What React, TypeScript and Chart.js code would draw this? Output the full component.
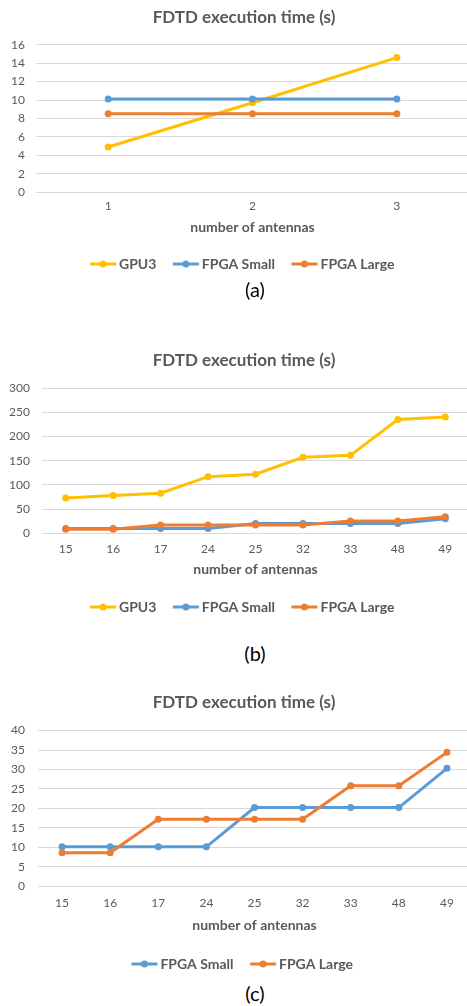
import React, { useEffect, useRef } from "react";
import { Chart, registerables } from "chart.js";

Chart.register(...registerables);

// ---------- data ----------
const antennasA = ["1", "2", "3"];
const gpuA = [4.9, 9.7, 14.6];
const smallA = [10.1, 10.1, 10.1];
const largeA = [8.5, 8.5, 8.5];

const antennasBC = ["15", "16", "17", "24", "25", "32", "33", "48", "49"];
const gpuB = [73, 78, 83, 117, 122, 157, 161, 235, 240];
const smallBC = [10.1, 10.1, 10.1, 10.1, 20.2, 20.2, 20.2, 20.2, 30.3];
const largeBC = [8.6, 8.6, 17.2, 17.2, 17.2, 17.2, 25.8, 25.8, 34.4];

const seriesNames = ["GPU3", "FPGA Small", "FPGA Large"];
const titleText = "FDTD execution time (s)";
const xTitleText = "number of antennas";
const captions = ["(a)", "(b)", "(c)"];

const COLORS: Record<string, string> = {
  GPU3: "#FFC000",
  "FPGA Small": "#5B9BD5",
  "FPGA Large": "#ED7D31",
};
const TEXT = "#595959";
const GRID = "#D9D9D9";
const FONT = "Lato, 'Open Sans', sans-serif";
const W = 488;

type Spec = {
  top: number;
  height: number;
  labels: string[];
  series: { name: string; data: number[] }[];
  yMax: number;
  yStep: number;
  titlePadBottom: number;
  tickPad: number;
  xTitlePadTop: number;
  xTitlePadBottom: number;
  yWidth: number;
  yTickPad: number;
  rightWidth: number;
};

const specs: Spec[] = [
  {
    top: 0,
    height: 281,
    labels: antennasA,
    series: [
      { name: seriesNames[0], data: gpuA },
      { name: seriesNames[1], data: smallA },
      { name: seriesNames[2], data: largeA },
    ],
    yMax: 16,
    yStep: 2,
    titlePadBottom: 16.5,
    tickPad: 7,
    xTitlePadTop: -2,
    xTitlePadBottom: 1.6,
    yWidth: 36,
    yTickPad: 11,
    rightWidth: 19,
  },
  {
    top: 342.7,
    height: 281,
    labels: antennasBC,
    series: [
      { name: seriesNames[0], data: gpuB },
      { name: seriesNames[1], data: smallBC },
      { name: seriesNames[2], data: largeBC },
    ],
    yMax: 300,
    yStep: 50,
    titlePadBottom: 16.8,
    tickPad: 8.1,
    xTitlePadTop: -3.1,
    xTitlePadBottom: 2.3,
    yWidth: 42,
    yTickPad: 12,
    rightWidth: 19,
  },
  {
    top: 684.7,
    height: 296.3,
    labels: antennasBC,
    series: [
      { name: seriesNames[1], data: smallBC },
      { name: seriesNames[2], data: largeBC },
    ],
    yMax: 40,
    yStep: 5,
    titlePadBottom: 17.4,
    tickPad: 10.1,
    xTitlePadTop: -3.4,
    xTitlePadBottom: 2.9,
    yWidth: 38,
    yTickPad: 13,
    rightWidth: 17,
  },
];

function makeLegendImage(color: string): HTMLCanvasElement {
  const c = document.createElement("canvas");
  c.width = 40;
  c.height = 10;
  const ctx = c.getContext("2d")!;
  const lx = 7.25;
  ctx.strokeStyle = color;
  ctx.lineWidth = 3;
  ctx.beginPath();
  ctx.moveTo(lx, 5);
  ctx.lineTo(lx + 26, 5);
  ctx.stroke();
  ctx.fillStyle = color;
  ctx.beginPath();
  ctx.arc(lx + 13, 5, 3.5, 0, Math.PI * 2);
  ctx.fill();
  return c;
}

function ChartPanel({ spec }: { spec: Spec }) {
  const ref = useRef<HTMLCanvasElement | null>(null);
  useEffect(() => {
    if (!ref.current) return;
    const n = spec.series.length;
    const images: Record<string, HTMLCanvasElement> = {};
    spec.series.forEach((s) => (images[s.name] = makeLegendImage(COLORS[s.name])));
    const chart = new Chart(ref.current, {
      type: "line",
      data: {
        labels: spec.labels,
        datasets: spec.series.map((s, i) => ({
          label: s.name,
          data: s.data,
          borderColor: COLORS[s.name],
          backgroundColor: COLORS[s.name],
          pointBackgroundColor: COLORS[s.name],
          pointBorderColor: COLORS[s.name],
          pointBorderWidth: 0,
          pointRadius: 3.5,
          borderWidth: 3,
          tension: 0,
          order: n - i,
          yAxisID: "y",
        })),
      },
      options: {
        responsive: false,
        animation: false,
        devicePixelRatio: 1,
        layout: { padding: 0 },
        plugins: {
          tooltip: { enabled: false },
          title: {
            display: true,
            text: titleText,
            color: TEXT,
            font: { family: FONT, size: 17, weight: "bold" },
            padding: { top: 7.8, bottom: spec.titlePadBottom },
          },
          legend: {
            position: "bottom",
            labels: {
              color: TEXT,
              font: { family: FONT, size: 14, weight: "bold" },
              usePointStyle: true,
              pointStyleWidth: 18.5,
              padding: 20,
              sort: (a: any, b: any) => a.datasetIndex - b.datasetIndex,
              generateLabels: (chart: any) => {
                const items = Chart.defaults.plugins.legend.labels.generateLabels(chart);
                return items.map((it: any) => ({
                  ...it,
                  pointStyle: images[it.text],
                }));
              },
            },
          },
        },
        scales: {
          x: {
            offset: true,
            grid: { display: false, drawTicks: false },
            border: { display: false },
            ticks: {
              color: TEXT,
              font: { family: FONT, size: 12 },
              padding: spec.tickPad,
              maxRotation: 0,
            },
            title: {
              display: true,
              text: xTitleText,
              color: TEXT,
              font: { family: FONT, size: 14, weight: "bold" },
              padding: { top: spec.xTitlePadTop, bottom: spec.xTitlePadBottom },
            },
          },
          y: {
            min: 0,
            max: spec.yMax,
            grid: { color: GRID, lineWidth: 1, drawTicks: false },
            border: { display: false },
            ticks: {
              stepSize: spec.yStep,
              color: TEXT,
              font: { family: FONT, size: 12 },
              padding: spec.yTickPad,
            },
            afterFit: (s: any) => {
              s.width = spec.yWidth;
            },
          },
          yR: {
            position: "right",
            display: true,
            grid: { display: false, drawTicks: false },
            border: { display: false },
            ticks: { display: false },
            afterFit: (s: any) => {
              s.width = spec.rightWidth;
            },
          },
        },
      },
    });
    return () => chart.destroy();
  }, [spec]);
  return (
    <div style={{ position: "absolute", left: 0, top: spec.top, width: W, height: spec.height }}>
      <canvas ref={ref} width={W} height={spec.height} style={{ width: W, height: spec.height, display: "block" }} />
    </div>
  );
}

const captionCenters = [289, 653, 993];

export default function App() {
  return (
    <div
      style={{
        position: "absolute",
        left: 0,
        top: 0,
        width: 467,
        height: 1006,
        overflow: "hidden",
        background: "#fff",
      }}
    >
      {specs.map((s, i) => (
        <ChartPanel key={i} spec={s} />
      ))}
      {captions.map((c, i) => (
        <div
          key={c}
          style={{
            position: "absolute",
            left: 0,
            width: 510,
            top: captionCenters[i] - 12,
            height: 24,
            lineHeight: "24px",
            textAlign: "center",
            fontFamily: FONT,
            fontSize: 20,
            color: "#000",
          }}
        >
          {c}
        </div>
      ))}
    </div>
  );
}
